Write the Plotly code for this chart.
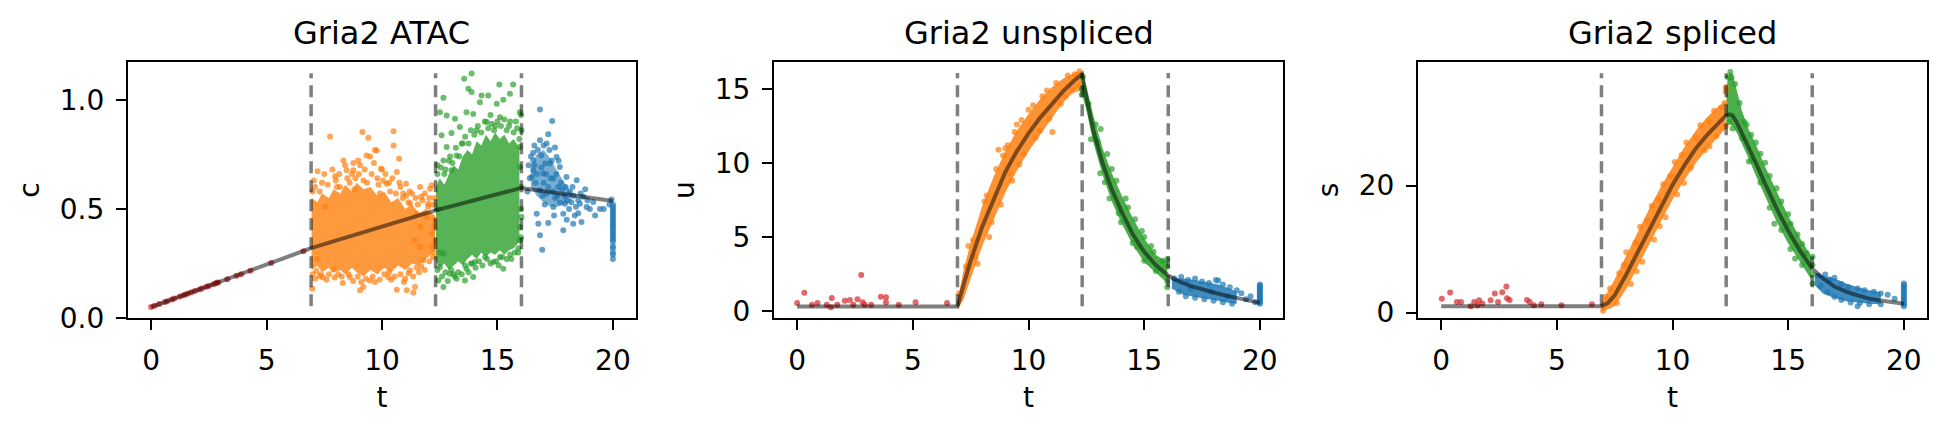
import plotly.graph_objects as go

# ------------------------------------------------------------------ data
FONT = "DejaVu Sans"
RED, ORANGE, GREEN, BLUE = "#d62728", "#ff7f0e", "#2ca02c", "#1f77b4"

titles = ["Gria2 ATAC", "Gria2 unspliced", "Gria2 spliced"]
ylabels = ["c", "u", "s"]

switch_t = [6.93, 12.32, 16.04]
vspan_c = [0.054, 1.122]
vspan_u = [0.32, 16.08]
vspan_s = [1.0, 37.7]

# fitted curves
curve_c_t = [0.0, 6.93, 12.32, 16.04, 20.0]
curve_c = [0.05, 0.32, 0.493, 0.596, 0.536]

curve_u_t = [0.0, 6.93, 7.2, 7.5, 8.0, 8.5, 9.0, 9.5, 10.0, 10.5, 11.0, 11.5, 12.0, 12.32,
             12.4, 12.5, 12.8, 13.2, 13.6, 14.0, 14.5, 15.0, 15.5, 16.04, 16.5, 17.0, 17.5,
             18.0, 18.5, 19.0, 19.5, 20.0]
curve_u = [0.3, 0.3, 1.8, 3.4, 5.7, 7.6, 9.4, 10.8, 12.0, 13.05, 14.0, 14.85, 15.6, 16.0,
           15.2, 14.4, 12.2, 10.0, 8.2, 6.8, 5.2, 4.0, 3.1, 2.4, 2.0, 1.7, 1.45,
           1.25, 1.06, 0.9, 0.7, 0.55]

curve_s_t = [0.0, 6.93, 7.2, 7.5, 8.0, 8.5, 9.0, 9.5, 10.0, 10.5, 11.0, 11.5, 12.0, 12.3,
             12.45, 12.6, 12.8, 13.2, 13.6, 14.0, 14.5, 15.0, 15.5, 16.04, 16.5, 17.0, 17.5,
             18.0, 18.5, 19.0, 19.5, 20.0]
curve_s = [1.0, 1.0, 1.5, 2.7, 6.0, 9.6, 13.1, 16.7, 20.1, 23.1, 25.8, 28.0, 30.0, 31.0,
           31.2, 31.0, 29.8, 26.8, 23.6, 20.3, 16.4, 12.9, 9.8, 6.9, 5.4, 4.1, 3.3,
           2.7, 2.2, 1.9, 1.6, 1.4]

# dense cores of the point clouds: (t, low, high)
core_c_orange_t = [6.95, 7.2, 7.4, 7.7, 7.9, 8.2, 8.4, 8.7, 8.9, 9.2, 9.5, 9.8, 10.1, 10.4,
                   10.7, 11.0, 11.3, 11.6, 11.9, 12.3]
core_c_orange_hi = [0.55, 0.53, 0.57, 0.55, 0.59, 0.57, 0.61, 0.58, 0.62, 0.59, 0.60, 0.56, 0.58,
                    0.53, 0.55, 0.50, 0.52, 0.48, 0.50, 0.47]
core_c_orange_lo = [0.22, 0.24, 0.21, 0.23, 0.21, 0.22, 0.20, 0.23, 0.21, 0.19, 0.22, 0.20, 0.23,
                    0.21, 0.24, 0.22, 0.25, 0.24, 0.27, 0.31]
core_c_green_t = [12.34, 12.5, 12.7, 12.9, 13.1, 13.3, 13.5, 13.7, 13.9, 14.1, 14.3, 14.5, 14.7,
                  14.9, 15.1, 15.3, 15.5, 15.7, 15.95]
core_c_green_hi = [0.60, 0.64, 0.61, 0.66, 0.70, 0.68, 0.74, 0.77, 0.75, 0.81, 0.79, 0.84, 0.81,
                   0.85, 0.82, 0.84, 0.80, 0.82, 0.78]
core_c_green_lo = [0.26, 0.23, 0.25, 0.22, 0.24, 0.26, 0.24, 0.27, 0.29, 0.27, 0.30, 0.28, 0.30,
                   0.29, 0.31, 0.29, 0.31, 0.32, 0.35]
core_c_blue_t = [16.45, 16.7, 17.0, 17.3, 17.6, 17.9, 18.2]
core_c_blue_hi = [0.70, 0.75, 0.77, 0.73, 0.67, 0.62, 0.58]
core_c_blue_lo = [0.60, 0.56, 0.53, 0.51, 0.51, 0.52, 0.53]

core_u_orange_t = [6.93, 7.2, 7.5, 8.0, 8.5, 9.0, 9.5, 10.0, 10.5, 11.0, 11.5, 12.0, 12.3]
core_u_orange_hi = [0.7, 2.8, 4.6, 7.1, 9.1, 10.8, 12.2, 13.3, 14.3, 15.1, 15.7, 16.1, 16.2]
core_u_orange_lo = [0.1, 0.8, 2.2, 4.4, 6.2, 8.0, 9.5, 10.8, 11.9, 13.0, 14.1, 14.9, 15.4]
core_u_green_t = [12.32, 12.5, 12.8, 13.2, 13.6, 14.0, 14.5, 15.0, 15.5, 16.0]
core_u_green_hi = [16.2, 15.2, 13.2, 11.0, 9.3, 7.9, 6.3, 4.9, 3.8, 3.3]
core_u_green_lo = [14.6, 13.6, 11.4, 9.2, 7.4, 6.0, 4.5, 3.3, 2.6, 1.9]
core_u_blue_t = [16.2, 16.7, 17.2, 17.7, 18.2, 18.7, 19.0]
core_u_blue_hi = [2.2, 2.2, 2.1, 1.95, 1.8, 1.5, 1.3]
core_u_blue_lo = [1.5, 1.1, 0.95, 0.8, 0.7, 0.55, 0.5]

core_s_orange_t = [6.93, 7.2, 7.5, 8.0, 8.5, 9.0, 9.5, 10.0, 10.5, 11.0, 11.5, 12.0, 12.3]
core_s_orange_hi = [1.6, 3.2, 5.2, 9.0, 12.8, 16.4, 19.8, 23.0, 26.0, 28.6, 30.8, 32.5, 33.2]
core_s_orange_lo = [0.2, 0.5, 1.0, 3.7, 7.3, 10.8, 14.4, 17.8, 20.8, 23.5, 25.8, 27.8, 29.0]
core_s_green_t = [12.33, 12.45, 12.6, 12.8, 13.0, 13.3, 13.6, 14.0, 14.5, 15.0, 15.5, 16.0]
core_s_green_hi = [35.5, 37.8, 37.6, 34.5, 31.8, 28.8, 26.5, 23.0, 19.0, 15.2, 11.8, 8.8]
core_s_green_lo = [30.0, 29.8, 29.4, 28.2, 26.6, 24.2, 21.6, 18.2, 14.3, 10.9, 8.0, 5.2]
core_s_blue_t = [16.15, 16.5, 17.0, 17.5, 18.0, 18.5, 19.0]
core_s_blue_hi = [6.2, 5.8, 5.4, 4.6, 4.0, 3.5, 3.2]
core_s_blue_lo = [4.3, 3.0, 2.3, 1.8, 1.6, 1.4, 1.3]

# individual cells (t, value)
red_c = [(0.0, 0.05), (0.15, 0.056), (0.35, 0.064), (0.6, 0.073), (0.7, 0.077), (0.9, 0.085),
         (1.0, 0.089), (1.25, 0.098), (1.4, 0.104), (1.5, 0.108), (1.6, 0.112), (1.75, 0.118),
         (1.9, 0.124), (2.1, 0.131), (2.2, 0.135), (2.4, 0.143), (2.5, 0.147), (2.7, 0.155),
         (2.8, 0.159), (2.85, 0.161), (2.9, 0.163), (3.3, 0.178), (3.7, 0.194), (3.9, 0.201),
         (4.3, 0.217), (5.2, 0.252), (6.6, 0.306)]
orange_c = [(7.75, 0.832), (9.15, 0.852), (9.41, 0.826), (10.5, 0.856), (10.5, 0.79), (9.7, 0.77),
            (9.48, 0.74), (10.74, 0.73), (8.76, 0.71), (7.21, 0.672), (7.97, 0.65), (9.96, 0.684),
            (10.64, 0.669), (11.04, 0.615), (11.65, 0.60), (12.08, 0.592), (12.15, 0.608),
            (11.69, 0.555), (12.0, 0.51), (6.98, 0.134), (9.05, 0.127), (9.19, 0.142), (10.64, 0.13),
            (11.07, 0.127), (11.36, 0.116), (11.43, 0.142), (9.48, 0.172), (8.61, 0.188),
            (7.89, 0.222), (7.32, 0.191), (10.27, 0.188), (11.21, 0.219), (11.79, 0.265),
            (12.15, 0.326), (12.15, 0.387), (11.93, 0.463), (12.0, 0.524), (8.47, 0.677),
            (8.97, 0.722), (9.33, 0.745), (9.77, 0.768), (8.33, 0.722), (8.76, 0.677), (7.53, 0.51),
            (8.18, 0.60), (10.2, 0.615), (9.91, 0.57), (10.92, 0.57), (11.21, 0.524), (11.5, 0.478),
            (11.65, 0.417), (11.43, 0.356), (11.65, 0.326), (7.1, 0.60), (7.4, 0.62), (8.0, 0.63),
            (8.5, 0.64), (9.0, 0.66), (9.2, 0.63), (9.8, 0.64), (10.3, 0.62), (10.8, 0.60),
            (11.2, 0.58), (7.0, 0.58), (8.3, 0.16), (9.7, 0.165), (10.4, 0.175), (11.0, 0.18),
            (11.6, 0.21), (7.1, 0.18), (7.6, 0.175), (12.2, 0.28), (12.25, 0.42), (12.28, 0.55),
            (8.8, 0.59), (10.0, 0.68), (7.2, 0.27),
            (7.05, 0.63), (7.3, 0.58), (7.5, 0.66), (7.65, 0.61), (7.85, 0.68), (8.05, 0.60),
            (8.15, 0.66), (8.4, 0.70), (8.6, 0.62), (8.7, 0.66), (8.85, 0.64), (9.05, 0.70),
            (9.25, 0.68), (9.35, 0.62), (9.55, 0.66), (9.65, 0.71), (9.85, 0.61), (10.05, 0.63),
            (10.15, 0.66), (10.35, 0.58), (10.45, 0.64), (10.6, 0.57), (10.75, 0.62), (10.9, 0.55),
            (11.05, 0.56), (11.15, 0.53), (11.3, 0.57), (11.45, 0.55), (11.55, 0.52), (11.75, 0.54),
            (11.85, 0.57), (12.05, 0.55), (12.2, 0.52), (12.3, 0.45),
            (7.0, 0.2), (7.15, 0.215), (7.35, 0.2), (7.45, 0.185), (7.7, 0.2), (7.95, 0.185),
            (8.1, 0.2), (8.25, 0.19), (8.55, 0.2), (8.75, 0.17), (8.95, 0.19), (9.1, 0.165),
            (9.3, 0.18), (9.6, 0.19), (9.9, 0.175), (10.1, 0.2), (10.3, 0.21), (10.55, 0.19),
            (10.8, 0.2), (10.95, 0.165), (11.15, 0.205), (11.35, 0.19), (11.5, 0.23), (11.7, 0.235),
            (11.85, 0.22), (12.05, 0.26), (12.25, 0.3), (12.3, 0.35)]
green_c = [(13.88, 1.12), (13.56, 1.096), (15.68, 1.07), (15.08, 1.07), (12.66, 1.009), (13.74, 1.05),
           (13.88, 1.035), (14.31, 1.02), (14.6, 1.02), (14.24, 0.989), (15.54, 1.028), (14.97, 0.982),
           (15.25, 1.0), (12.51, 0.943), (12.8, 0.928), (13.16, 0.913), (13.66, 0.943), (13.95, 0.935),
           (15.97, 0.943), (12.58, 0.837), (13.01, 0.848), (12.8, 0.784), (13.23, 0.745), (12.66, 0.722),
           (13.01, 0.677), (15.97, 0.692), (15.97, 0.784), (16.04, 0.86), (13.37, 0.875), (15.11, 0.92),
           (14.75, 0.89), (14.53, 0.898), (12.66, 0.142), (12.44, 0.172), (13.23, 0.18), (13.59, 0.172),
           (13.95, 0.188), (14.02, 0.257), (14.82, 0.257), (15.25, 0.226), (15.11, 0.28), (14.46, 0.28),
           (12.94, 0.203), (12.51, 0.234), (15.97, 0.417), (15.97, 0.356), (16.04, 0.463), (12.66, 0.295),
           (13.66, 0.226), (16.02, 0.93), (16.02, 0.6), (16.02, 0.5), (16.02, 0.37), (12.4, 0.7),
           (12.45, 0.5), (12.5, 0.3), (13.1, 0.2), (14.9, 0.88), (15.5, 0.88), (15.8, 0.9), (14.1, 0.86),
           (13.5, 0.8), (15.9, 0.3), (15.6, 0.27), (13.9, 0.25), (12.9, 0.72), (12.7, 0.66),
           (12.4, 0.66), (12.55, 0.69), (12.75, 0.68), (12.95, 0.74), (13.05, 0.71), (13.2, 0.78),
           (13.35, 0.74), (13.45, 0.80), (13.6, 0.83), (13.75, 0.80), (13.85, 0.86), (14.0, 0.84),
           (14.15, 0.88), (14.3, 0.85), (14.45, 0.9), (14.6, 0.87), (14.7, 0.93), (14.85, 0.86),
           (15.0, 0.9), (15.15, 0.88), (15.3, 0.91), (15.4, 0.86), (15.55, 0.9), (15.7, 0.85),
           (15.85, 0.87), (15.95, 0.82),
           (12.4, 0.22), (12.6, 0.19), (12.75, 0.21), (12.85, 0.17), (13.0, 0.22), (13.15, 0.19),
           (13.3, 0.21), (13.45, 0.2), (13.6, 0.24), (13.75, 0.21), (13.85, 0.25), (14.05, 0.23),
           (14.2, 0.26), (14.35, 0.24), (14.55, 0.27), (14.7, 0.25), (14.95, 0.26), (15.05, 0.24),
           (15.2, 0.28), (15.4, 0.27), (15.55, 0.29), (15.75, 0.3), (15.9, 0.32)]
blue_c = [(16.84, 0.955), (17.37, 0.903), (17.2, 0.842), (16.84, 0.815), (17.13, 0.799), (17.49, 0.781),
          (16.55, 0.757), (16.9, 0.746), (17.56, 0.738), (17.27, 0.708), (17.7, 0.692), (16.48, 0.646),
          (16.98, 0.662), (17.42, 0.639), (17.99, 0.646), (16.84, 0.585), (17.63, 0.6), (18.14, 0.577),
          (18.43, 0.631), (18.72, 0.555), (18.86, 0.509), (19.23, 0.47), (19.44, 0.5), (19.15, 0.532),
          (18.57, 0.524), (17.92, 0.524), (17.42, 0.509), (16.7, 0.478), (17.2, 0.435), (16.77, 0.432),
          (17.85, 0.402), (18.28, 0.432), (18.64, 0.44), (16.84, 0.379), (16.94, 0.313), (19.94, 0.543),
          (17.13, 0.57), (17.85, 0.478), (16.55, 0.677), (17.06, 0.708), (16.55, 0.722), (16.6, 0.70),
          (16.7, 0.66), (16.9, 0.69), (17.0, 0.62), (17.1, 0.66), (17.2, 0.60), (17.3, 0.64), (17.4, 0.58),
          (17.5, 0.55), (17.6, 0.56), (17.7, 0.53), (17.8, 0.59), (17.9, 0.56), (18.0, 0.54), (18.1, 0.50),
          (18.2, 0.53), (18.3, 0.56), (18.4, 0.51), (18.5, 0.48), (18.6, 0.57), (18.8, 0.59), (19.0, 0.50),
          (16.65, 0.62), (16.95, 0.56), (17.35, 0.72), (17.55, 0.66), (17.75, 0.62), (16.45, 0.74),
          (16.75, 0.77), (17.05, 0.52), (17.45, 0.47), (18.0, 0.45), (18.35, 0.47), (19.6, 0.50),
          (19.85, 0.52), (16.3, 0.58), (16.35, 0.70), (16.4, 0.64), (16.6, 0.79), (17.0, 0.79),
          (17.25, 0.77), (17.65, 0.72), (17.95, 0.6), (18.25, 0.6), (18.5, 0.54), (18.9, 0.54)]
end_c = [0.27, 0.29, 0.30, 0.32, 0.33, 0.35, 0.36, 0.37, 0.38, 0.39, 0.40, 0.41, 0.42, 0.43, 0.44,
         0.45, 0.46, 0.47, 0.48, 0.49, 0.50, 0.51, 0.52]

red_u = [(0.0, 0.54), (0.31, 1.24), (0.64, 0.43), (0.88, 0.54), (1.28, 0.43), (1.46, 0.25), (1.5, 0.88),
         (1.73, 0.43), (2.06, 0.7), (2.28, 0.74), (2.43, 0.43), (2.61, 0.79), (2.77, 2.44), (2.83, 0.59),
         (2.92, 0.43), (3.2, 0.43), (3.62, 0.97), (3.84, 0.93), (3.84, 0.59), (4.39, 0.43), (5.12, 0.59),
         (6.48, 0.54)]
orange_u = [(7.0, 1.2), (7.3, 3.0), (7.6, 4.8), (7.8, 3.2), (8.1, 7.4), (8.3, 5.0), (8.6, 9.6), (8.8, 7.2),
            (9.1, 11.2), (9.3, 8.8), (9.5, 12.6), (9.8, 10.6), (10.0, 13.6), (10.3, 11.7), (10.6, 14.5),
            (10.9, 13.0), (11.2, 15.4), (11.4, 14.0), (11.7, 15.9), (11.9, 14.9), (12.2, 16.2),
            (12.25, 15.2), (9.2, 9.3), (8.9, 10.5), (9.6, 9.9), (11.03, 12.1), (8.7, 10.9), (9.4, 12.1),
            (7.4, 4.4), (7.7, 3.6), (8.2, 7.8), (8.4, 6.0), (9.0, 11.0), (9.7, 12.9), (10.2, 13.9),
            (10.5, 12.2), (10.8, 14.9), (11.6, 14.5), (12.0, 16.0), (12.1, 15.0)]
green_u = [(12.3, 15.0), (12.3, 14.6), (12.35, 15.8), (13.12, 12.3), (12.6, 14.0), (12.9, 12.6),
           (13.4, 10.6), (13.8, 8.8), (14.2, 7.6), (14.6, 6.2), (15.0, 5.0), (15.4, 4.0), (15.8, 3.4),
           (12.7, 11.6), (13.1, 9.3), (13.5, 7.6), (14.0, 6.0), (14.5, 4.6), (15.0, 3.4), (15.5, 2.7),
           (16.0, 3.5), (16.0, 1.6), (16.0, 2.0), (16.0, 3.0), (13.0, 11.4), (13.6, 9.6),
           (14.3, 7.0), (14.9, 5.4), (15.3, 4.4), (13.3, 8.7), (13.9, 6.6), (14.7, 4.3)]
blue_u = [(16.3, 2.2), (16.6, 2.3), (16.9, 2.1), (17.2, 2.2), (17.5, 2.0), (17.8, 1.9), (18.1, 2.1),
          (18.2, 2.07), (18.4, 1.8), (18.7, 1.6), (19.0, 1.4), (19.2, 1.2), (19.4, 0.8), (19.6, 1.0),
          (16.5, 1.3), (16.8, 1.0), (17.2, 0.9), (17.6, 0.8), (18.0, 0.7), (18.4, 0.6), (18.8, 0.5),
          (17.0, 1.5), (17.9, 1.3), (18.6, 1.0), (19.8, 0.6)]
end_u = [0.5, 0.6, 0.7, 0.8, 0.9, 1.0, 1.1, 1.2, 1.3, 1.4, 1.5, 1.6, 1.7, 1.8]

red_s = [(0.03, 2.2), (0.39, 3.15), (0.68, 1.68), (0.86, 1.68), (1.28, 1.0), (1.43, 1.68), (1.57, 1.15),
         (1.64, 1.94), (1.78, 1.42), (2.14, 1.94), (2.32, 2.99), (2.46, 1.68), (2.64, 3.2), (2.82, 4.1),
         (2.85, 2.25), (2.96, 2.0), (3.71, 2.0), (3.83, 1.68), (4.01, 1.15), (4.33, 1.31), (5.2, 1.15),
         (6.52, 1.31)]
orange_s = [(7.0, 0.3), (7.1, 2.5), (7.3, 3.8), (7.6, 1.5), (7.9, 7.5), (8.2, 4.5), (8.4, 11.0),
            (8.7, 8.0), (8.9, 14.5), (9.2, 11.5), (9.4, 17.8), (9.7, 15.0), (9.9, 21.5), (10.2, 18.6),
            (10.4, 24.8), (10.8, 22.8), (11.0, 27.5), (11.4, 25.6), (11.6, 30.0), (11.9, 27.8),
            (12.1, 32.3), (12.3, 29.3), (12.3, 35.5), (12.3, 34.8), (12.25, 33.0), (8.0, 9.5),
            (7.7, 6.2), (8.6, 13.5), (9.1, 16.8), (9.6, 20.2), (10.1, 23.7), (10.6, 26.8),
            (11.2, 29.5), (11.8, 31.8), (8.45, 6.5), (9.45, 13.6), (10.5, 20.4), (11.6, 26.2)]
green_s = [(12.4, 37.0), (12.5, 37.9), (12.55, 37.0), (12.7, 36.0), (12.45, 30.0), (12.6, 29.0),
           (12.9, 33.0), (13.1, 30.0), (13.0, 27.5), (13.4, 28.0), (13.4, 24.0), (13.8, 25.0),
           (13.8, 20.5), (14.2, 21.5), (14.2, 16.5), (14.7, 17.5), (14.7, 13.0), (15.1, 14.0),
           (15.1, 10.0), (15.6, 10.8), (15.6, 7.5), (16.05, 8.8), (16.05, 4.6), (16.05, 6.0),
           (16.05, 7.5), (13.2, 29.6), (13.6, 26.8), (14.0, 23.6), (14.5, 19.6), (15.0, 15.5),
           (15.4, 12.3), (15.8, 9.4), (13.3, 23.8), (14.4, 14.0), (15.3, 8.5)]
blue_s = [(16.3, 5.8), (16.6, 6.0), (16.8, 5.2), (17.0, 5.5), (17.3, 4.5), (17.6, 4.0), (18.0, 3.8),
          (18.3, 3.5), (18.7, 3.3), (19.0, 3.0), (19.3, 2.8), (19.6, 2.2), (16.4, 4.2), (16.7, 3.2),
          (17.0, 2.5), (17.3, 2.0), (17.7, 1.6), (18.1, 1.5), (18.5, 1.3), (19.0, 1.3), (18.0, 1.0)]
end_s = [1.0, 1.3, 1.6, 1.9, 2.2, 2.5, 2.8, 3.1, 3.4, 3.7, 4.0, 4.3, 4.6]

t_end = 20.0

# ------------------------------------------------------------------ layout geometry
W, H = 1947, 427
x_domains = [(128 / W, 636 / W), (774 / W, 1283 / W), (1418 / W, 1927 / W)]
y_domain = (1 - 318 / H, 1 - 62 / H)
y_ranges = [(0.0, 1.173), (-0.47, 16.82), (-0.85, 39.46)]
y_dticks = [0.5, 5, 20]
y_formats = [".1f", "d", "d"]

fig = go.Figure()


def axes(i):
    return ("x" if i == 0 else f"x{i + 1}", "y" if i == 0 else f"y{i + 1}")


def add_band(i, t, lo, hi, color, opacity=0.85):
    xa, ya = axes(i)
    fig.add_trace(go.Scatter(
        x=list(t) + list(t)[::-1], y=list(hi) + list(lo)[::-1],
        fill="toself", fillcolor=color, opacity=opacity, mode="lines",
        line=dict(width=0, color=color), hoverinfo="skip", showlegend=False,
        xaxis=xa, yaxis=ya))


def add_points(i, pairs, color):
    xa, ya = axes(i)
    fig.add_trace(go.Scatter(
        x=[p[0] for p in pairs], y=[p[1] for p in pairs], mode="markers",
        marker=dict(size=6, color=color, opacity=0.7, line=dict(width=0)),
        showlegend=False, xaxis=xa, yaxis=ya))


def add_curve(i, t, v):
    xa, ya = axes(i)
    fig.add_trace(go.Scatter(
        x=t, y=v, mode="lines", line=dict(color="rgba(0,0,0,0.5)", width=4),
        showlegend=False, xaxis=xa, yaxis=ya))


def add_vlines(i, span):
    xa, ya = axes(i)
    for ts in switch_t:
        fig.add_trace(go.Scatter(
            x=[ts, ts], y=span, mode="lines",
            line=dict(color="rgba(0,0,0,0.5)", width=3.5, dash="12px,7px"),
            showlegend=False, xaxis=xa, yaxis=ya))


# panel 1: ATAC
add_band(0, core_c_orange_t, core_c_orange_lo, core_c_orange_hi, ORANGE, 0.8)
add_band(0, core_c_green_t, core_c_green_lo, core_c_green_hi, GREEN, 0.8)
add_band(0, core_c_blue_t, core_c_blue_lo, core_c_blue_hi, BLUE, 0.6)
add_points(0, orange_c, ORANGE)
add_points(0, green_c, GREEN)
add_points(0, blue_c + [(t_end, v) for v in end_c], BLUE)
add_points(0, red_c, RED)
add_curve(0, curve_c_t, curve_c)
add_vlines(0, vspan_c)

# panel 2: unspliced
add_band(1, core_u_orange_t, core_u_orange_lo, core_u_orange_hi, ORANGE)
add_band(1, core_u_green_t, core_u_green_lo, core_u_green_hi, GREEN)
add_band(1, core_u_blue_t, core_u_blue_lo, core_u_blue_hi, BLUE)
add_points(1, orange_u, ORANGE)
add_points(1, green_u, GREEN)
add_points(1, blue_u + [(t_end, v) for v in end_u], BLUE)
add_points(1, red_u, RED)
add_curve(1, curve_u_t, curve_u)
add_vlines(1, vspan_u)

# panel 3: spliced
add_band(2, core_s_orange_t, core_s_orange_lo, core_s_orange_hi, ORANGE)
add_band(2, core_s_green_t, core_s_green_lo, core_s_green_hi, GREEN)
add_band(2, core_s_blue_t, core_s_blue_lo, core_s_blue_hi, BLUE)
add_points(2, orange_s, ORANGE)
add_points(2, green_s, GREEN)
add_points(2, blue_s + [(t_end, v) for v in end_s], BLUE)
add_points(2, red_s, RED)
add_curve(2, curve_s_t, curve_s)
add_vlines(2, vspan_s)

tick_font = dict(family=FONT, size=28, color="black")
common = dict(showline=True, mirror=True, linecolor="black", linewidth=2.2,
              ticks="outside", ticklen=10, tickwidth=2.2, tickcolor="black",
              showgrid=False, zeroline=False, tickfont=tick_font, ticklabelstandoff=6,
              automargin=False)

layout = dict(width=W, height=H, margin=dict(l=0, r=0, t=0, b=0, pad=0, autoexpand=False),
              paper_bgcolor="white", plot_bgcolor="white", showlegend=False)
annotations = []
for i in range(3):
    xk = "xaxis" if i == 0 else f"xaxis{i + 1}"
    yk = "yaxis" if i == 0 else f"yaxis{i + 1}"
    xa, ya = axes(i)
    layout[xk] = dict(domain=list(x_domains[i]), anchor=ya, range=[-1, 21],
                      tickvals=[0, 5, 10, 15, 20],
                      title=dict(text="t", font=tick_font, standoff=12), **common)
    layout[yk] = dict(domain=list(y_domain), anchor=xa, range=list(y_ranges[i]),
                      dtick=y_dticks[i], tick0=0, tickformat=y_formats[i],
                      title=dict(text=ylabels[i], font=tick_font, standoff=12), **common)
    annotations.append(dict(text=titles[i], xref="paper", yref="paper",
                            x=(x_domains[i][0] + x_domains[i][1]) / 2, y=1 - 33 / H,
                            xanchor="center", yanchor="middle", showarrow=False,
                            font=dict(family=FONT, size=32, color="black")))
layout["annotations"] = annotations
fig.update_layout(**layout)

fig.write_html("out.html")
